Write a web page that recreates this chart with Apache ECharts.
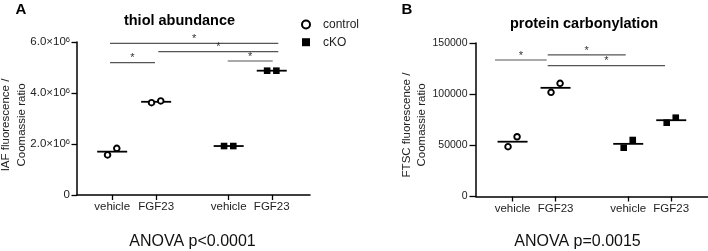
<!DOCTYPE html>
<html>
<head>
<meta charset="utf-8">
<script src="https://cdn.jsdelivr.net/npm/echarts@6/dist/echarts.min.js"></script>
<style>
html,body{margin:0;padding:0;background:#fff;}
#chart{width:708px;height:251px;}
</style>
</head>
<body>
<div id="chart"></div>
<script>
// ---------- data ----------
const categories = ['vehicle', 'FGF23', 'vehicle', 'FGF23'];
const groupNames = ['control', 'cKO'];

// thiol abundance (IAF fluorescence / Coomassie ratio): replicates per treatment
const thiolControl = [[1.57e6, 1.83e6], [3.62e6, 3.69e6]];
const thiolCKO = [[1.92e6, 1.92e6], [4.875e6, 4.875e6]];

// protein carbonylation (FTSC fluorescence / Coomassie ratio)
const carbControl = [[48700, 58400], [101800, 110600]];
const carbCKO = [[47700, 55200], [72100, 77000]];

// y tick labels
const yTicksA = ['0', '2.0×10⁶', '4.0×10⁶', '6.0×10⁶'];
const yTicksB = ['0', '50000', '100000', '150000'];

// significance brackets: [x start, x end, height]
const sigA = [[0.951, 4.779, 5.95e6], [2.049, 4.779, 5.62e6], [0.951, 1.974, 5.19e6], [3.628, 4.652, 5.255e6]];
const sigB = [[0.592, 1.794, 133400], [1.817, 3.631, 138300], [1.817, 4.545, 127800]];

const titles = ['thiol abundance', 'protein carbonylation'];
const yNames = ['IAF fluorescence /\nCoomassie ratio', 'FTSC fluorescence /\nCoomassie ratio'];
const anova = ['ANOVA p<0.0001', 'ANOVA p=0.0015'];

// ---------- layout constants ----------
const slotsA = [1, 2, 3.65, 4.63];
const slotsB = [1, 2, 3.69, 4.69];
const jitter = [-0.105, 0.105];
const FONT = '"Liberation Sans", Arial, sans-serif';
const supMap = {'⁰':'0','¹':'1','²':'2','³':'3','⁴':'4','⁵':'5','⁶':'6','⁷':'7','⁸':'8','⁹':'9'};

function points(groups, slotOffset, slots) {
  const out = [];
  groups.forEach((reps, gi) => {
    reps.forEach((v, ri) => out.push([slots[gi + slotOffset] + jitter[ri], v]));
  });
  return out;
}
function means(groups, slotOffset, slots) {
  return groups.map((reps, gi) => [slots[gi + slotOffset], reps.reduce((a, b) => a + b, 0) / reps.length]);
}
function tickLabel(v, ticks, max) {
  const idx = Math.round(v / (max / (ticks.length - 1)));
  const s = ticks[idx] || '';
  let out = '';
  let sup = '';
  for (const ch of s) {
    if (supMap[ch]) sup += supMap[ch]; else out += ch;
  }
  return sup ? '{b|' + out + '}{s|' + sup + '}' : '{b|' + out + '}';
}

function xAxisCfg(gridIndex, slots, min, max) {
  return {
    type: 'value', gridIndex, min, max,
    axisLine: {show: true, lineStyle: {color: '#000', width: 1.5}},
    axisTick: {show: true, customValues: slots, length: 5, lineStyle: {color: '#000', width: 1.3}},
    axisLabel: {
      customValues: slots, margin: 6, color: '#222', fontSize: 11.5, fontFamily: FONT,
      formatter: v => { const i = slots.findIndex(s => Math.abs(s - v) < 1e-6); return i >= 0 ? categories[i] : ''; }
    },
    splitLine: {show: false}
  };
}
function yAxisCfg(gridIndex, max, ticks, tickLen, margin, fs) {
  return {
    type: 'value', gridIndex, min: 0, max, interval: max / (ticks.length - 1),
    axisLine: {show: true, lineStyle: {color: '#000', width: 1.5}},
    axisTick: {show: true, length: tickLen, lineStyle: {color: '#000', width: 1.3}},
    axisLabel: {
      margin, color: '#222', fontFamily: FONT,
      formatter: v => tickLabel(v, ticks, max),
      rich: {
        b: {fontSize: fs, fontFamily: FONT, color: '#222', lineHeight: 12},
        s: {fontSize: 7.5, fontFamily: FONT, color: '#222', lineHeight: 8, verticalAlign: 'top', padding: [0, 0, 4, 0]}
      }
    },
    splitLine: {show: false}
  };
}

function meanSeries(name, xi, data) {
  return {
    type: 'custom', name: name + ' mean', xAxisIndex: xi, yAxisIndex: xi, data, silent: true, z: 3,
    renderItem: (params, api) => {
      const p = api.coord([api.value(0), api.value(1)]);
      return {type: 'line', shape: {x1: p[0] - 15, y1: p[1], x2: p[0] + 15, y2: p[1]},
        style: {stroke: '#000', lineWidth: 1.8}};
    }
  };
}
function sigSeries(xi, data) {
  return {
    type: 'custom', name: 'sig', xAxisIndex: xi, yAxisIndex: xi, data, silent: true, z: 2,
    renderItem: (params, api) => {
      const a = api.coord([api.value(0), api.value(2)]);
      const b = api.coord([api.value(1), api.value(2)]);
      return {type: 'group', children: [
        {type: 'line', shape: {x1: a[0], y1: a[1], x2: b[0], y2: b[1]}, style: {stroke: '#555', lineWidth: 1.2}},
        {type: 'text', x: (a[0] + b[0]) / 2, y: a[1] - 4.5,
          style: {text: '*', fontSize: 11, fontFamily: FONT, fill: '#333', align: 'center', verticalAlign: 'middle'}}
      ]};
    }
  };
}
function scatter(name, xi, data, isControl) {
  return {
    type: 'scatter', name, xAxisIndex: xi, yAxisIndex: xi, data, z: 5,
    symbol: isControl ? 'circle' : 'rect',
    symbolSize: isControl ? 5.6 : 6.6,
    itemStyle: isControl ? {color: '#fff', borderColor: '#000', borderWidth: 1.9, opacity: 1}
                         : {color: '#000', borderWidth: 0, opacity: 1}
  };
}

const chart = echarts.init(document.getElementById('chart'), null, {renderer: 'canvas'});
const option = {
  animation: false,
  backgroundColor: '#fff',
  textStyle: {fontFamily: FONT},
  grid: [
    {left: 77, top: 42, width: 233, height: 153},
    {left: 476, top: 43, width: 232, height: 153.5}
  ],
  xAxis: [xAxisCfg(0, slotsA, 0.2, 5.5), xAxisCfg(1, slotsB, 0.15, 5.545)],
  yAxis: [yAxisCfg(0, 6e6, yTicksA, 5.5, 7, 11.5), yAxisCfg(1, 150000, yTicksB, 6.5, 8.5, 10.5)],
  legend: {
    orient: 'vertical', left: 301, top: 18.5, padding: 0, itemGap: 5.7,
    itemWidth: 8, itemHeight: 8, selectedMode: false,
    data: groupNames,
    textStyle: {fontSize: 12, fontFamily: FONT, color: '#222', lineHeight: 12, padding: [0, 0, 0, 8]}
  },
  series: [
    sigSeries(0, sigA),
    sigSeries(1, sigB),
    meanSeries('control', 0, means(thiolControl, 0, slotsA)),
    meanSeries('cKO', 0, means(thiolCKO, 2, slotsA)),
    meanSeries('control', 1, means(carbControl, 0, slotsB)),
    meanSeries('cKO', 1, means(carbCKO, 2, slotsB)),
    scatter('control', 0, points(thiolControl, 0, slotsA), true),
    scatter('cKO', 0, points(thiolCKO, 2, slotsA), false),
    scatter('control', 1, points(carbControl, 0, slotsB), true),
    scatter('cKO', 1, points(carbCKO, 2, slotsB), false)
  ],
  graphic: [
    {type: 'text', x: 21, y: 10, style: {text: 'A', fontSize: 15, fontWeight: 'bold', fontFamily: FONT, fill: '#000', align: 'center', verticalAlign: 'middle'}},
    {type: 'text', x: 407, y: 10, style: {text: 'B', fontSize: 15, fontWeight: 'bold', fontFamily: FONT, fill: '#000', align: 'center', verticalAlign: 'middle'}},
    {type: 'text', x: 179.5, y: 20.5, style: {text: titles[0], fontSize: 14.5, fontWeight: 'bold', fontFamily: FONT, fill: '#000', align: 'center', verticalAlign: 'middle'}},
    {type: 'text', x: 584, y: 23.5, style: {text: titles[1], fontSize: 14.5, fontWeight: 'bold', fontFamily: FONT, fill: '#000', align: 'center', verticalAlign: 'middle'}},
    {type: 'text', x: 13.8, y: 125, rotation: Math.PI / 2, style: {text: yNames[0], fontSize: 11.5, lineHeight: 15.5, fontFamily: FONT, fill: '#222', align: 'center', verticalAlign: 'middle'}},
    {type: 'text', x: 414.5, y: 125, rotation: Math.PI / 2, style: {text: yNames[1], fontSize: 11.5, lineHeight: 15.5, fontFamily: FONT, fill: '#222', align: 'center', verticalAlign: 'middle'}},
    {type: 'text', x: 192.5, y: 242, style: {text: anova[0], fontSize: 16, fontFamily: FONT, fill: '#111', align: 'center', verticalAlign: 'middle'}},
    {type: 'text', x: 577.5, y: 242, style: {text: anova[1], fontSize: 16, fontFamily: FONT, fill: '#111', align: 'center', verticalAlign: 'middle'}}
  ]
};
chart.setOption(option);
</script>
</body>
</html>
